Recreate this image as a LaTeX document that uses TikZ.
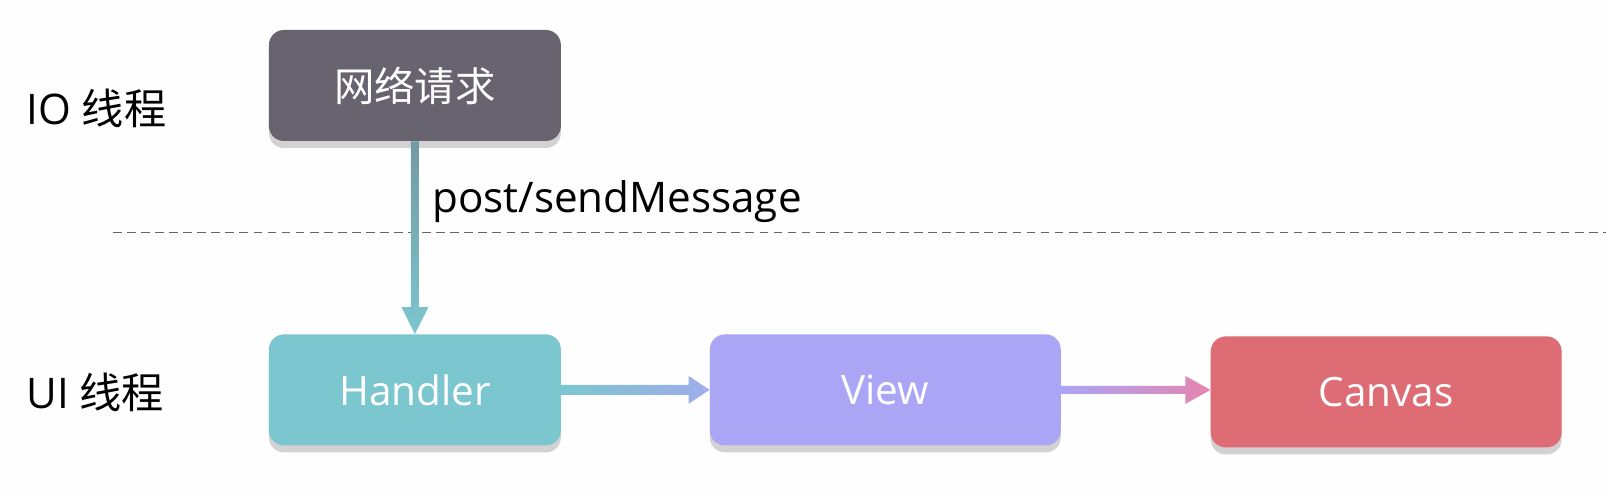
\documentclass[tikz,border=0pt]{standalone}
\usepackage{fontspec}
\setmainfont{Open Sans}
\newfontfamily\cjk{Noto Sans CJK SC}
\usetikzlibrary{shadows}
\definecolor{netgray}{HTML}{67636F}
\definecolor{handlerteal}{HTML}{7CC6CF}
\definecolor{viewviolet}{HTML}{ABA5F5}
\definecolor{canvasred}{HTML}{DE6C75}
\definecolor{linkpink}{HTML}{E585AE}

\begin{document}
\begin{tikzpicture}[
	box/.style={rounded corners=0.3cm, minimum height=2.22cm, text=white,
		font=\fontsize{23}{27}\selectfont,
		drop shadow={shadow xshift=0pt, shadow yshift=-0.14cm, opacity=0.35}},
	lane/.style={anchor=west, inner sep=0pt, font=\fontsize{24}{28}\selectfont}
]
	% background and page size
	\fill[white!99!gray] (0,0) rectangle (32.12,-9.88);
	\draw[dashed, gray!80!black, thin, dash pattern=on 5pt off 3pt] (2.26,-4.64) -- (32.12,-4.64);

	\node[lane] (IOlane) at (0.52,-2.16) {IO {\cjk 线程}};
	\node[lane] (UIlane) at (0.52,-7.84) {UI {\cjk 线程}};

	\node[box, fill=netgray, minimum width=5.84cm, font=\cjk\fontsize{23}{27}\selectfont] (Request) at (8.30,-1.71) {网络请求};
	\node[box, fill=handlerteal, minimum width=5.84cm] (Handler) at (8.30,-7.80) {Handler};
	\node[box, fill=viewviolet, minimum width=7.02cm] (View) at (17.71,-7.80) {View};
	\node[box, fill=canvasred, minimum width=7.02cm] (Canvas) at (27.73,-7.84) {Canvas};

	% connectors
	\shade[top color=netgray!45!handlerteal, bottom color=handlerteal]
		([xshift=-0.08cm]Request.south) -- ([xshift=-0.08cm,yshift=0.54cm]Handler.north)
		-- ([xshift=-0.27cm,yshift=0.54cm]Handler.north) -- (Handler.north)
		-- ([xshift=0.27cm,yshift=0.54cm]Handler.north) -- ([xshift=0.08cm,yshift=0.54cm]Handler.north)
		-- ([xshift=0.08cm]Request.south) -- cycle;
	\node[anchor=base west, inner sep=0pt, font=\fontsize{24}{28}\selectfont] (SendLabel) at (8.64,-4.26) {post/sendMessage};

	\shade[left color=handlerteal, right color=viewviolet!75!handlerteal]
		([yshift=0.1cm]Handler.east) -- ([xshift=-0.42cm,yshift=0.1cm]View.west)
		-- ([xshift=-0.42cm,yshift=0.28cm]View.west) -- (View.west)
		-- ([xshift=-0.42cm,yshift=-0.28cm]View.west) -- ([xshift=-0.42cm,yshift=-0.1cm]View.west)
		-- ([yshift=-0.1cm]Handler.east) -- cycle;
	\shade[left color=viewviolet, right color=linkpink]
		([yshift=0.08cm]View.east) -- ([xshift=-0.5cm,yshift=0.08cm]View.east -| Canvas.west)
		-- ([xshift=-0.5cm,yshift=0.28cm]View.east -| Canvas.west) -- (View.east -| Canvas.west)
		-- ([xshift=-0.5cm,yshift=-0.28cm]View.east -| Canvas.west) -- ([xshift=-0.5cm,yshift=-0.08cm]View.east -| Canvas.west)
		-- ([yshift=-0.08cm]View.east) -- cycle;
\end{tikzpicture}
\end{document}
